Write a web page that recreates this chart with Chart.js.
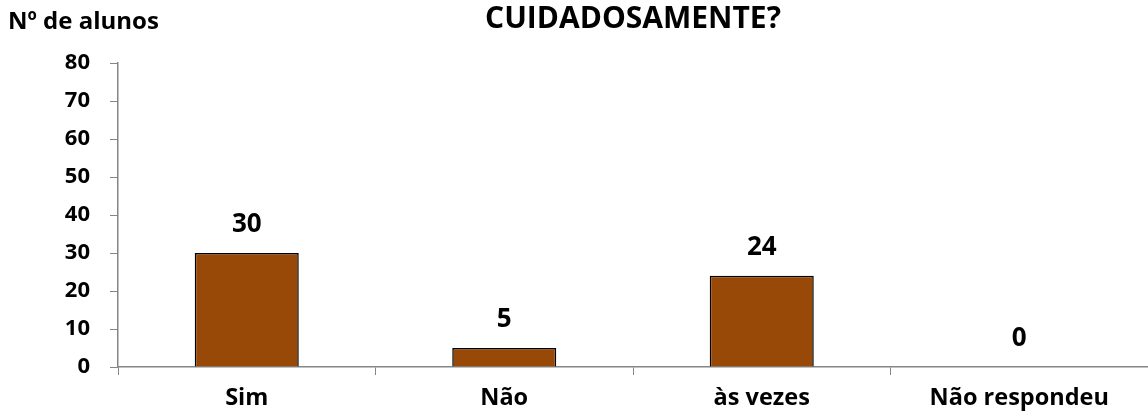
<!DOCTYPE html>
<html>
<head>
<meta charset="utf-8">
<script src="https://cdn.jsdelivr.net/npm/chart.js@4/dist/chart.umd.min.js"></script>
<style>
  html, body { margin: 0; padding: 0; background: #fff; }
  #wrap { width: 1148px; height: 417px; }
</style>
</head>
<body>
<div id="wrap"><canvas id="myChart" width="1148" height="417"></canvas></div>
<script>
const categories = ['Sim', 'Não', 'às vezes', 'Não respondeu'];
const alunos = [30, 5, 24, 0];
const yTicks = [0, 10, 20, 30, 40, 50, 60, 70, 80];

const FONT = '"Open Sans", Lato, sans-serif';
const COLORS = {
  bar: '#984807',
  border: '#000000',
  axis: '#868686',
  text: '#000000'
};

// title + y axis caption, drawn in the free space above the plot
const headings = {
  id: 'headings',
  afterDraw(chart) {
    const c = chart.ctx;
    const area = chart.chartArea;
    c.save();
    c.fillStyle = COLORS.text;
    c.textBaseline = 'middle';
    c.font = 'bold 30px ' + FONT;
    c.textAlign = 'center';
    c.fillText('CUIDADOSAMENTE?', (area.left + area.right) / 2, 19);
    c.font = 'bold 24px ' + FONT;
    c.textAlign = 'left';
    c.fillText('Nº de alunos', 8, 22);
    c.restore();
  }
};

// value labels over the bars
const valueLabels = {
  id: 'valueLabels',
  afterDatasetsDraw(chart) {
    const c = chart.ctx;
    const meta = chart.getDatasetMeta(0);
    c.save();
    c.fillStyle = COLORS.text;
    c.font = 'bold 26px ' + FONT;
    c.textAlign = 'center';
    c.textBaseline = 'middle';
    meta.data.forEach((bar, i) => {
      c.fillText(String(alunos[i]), bar.x, bar.y - 28);
    });
    c.restore();
  }
};

let ctx = document.getElementById('myChart');
let myChart = new Chart(ctx, {
  type: 'bar',
  data: {
    labels: categories,
    datasets: [{
      data: alunos,
      backgroundColor: COLORS.bar,
      borderColor: COLORS.border,
      borderWidth: 1.5,
      categoryPercentage: 1,
      barPercentage: 0.404
    }]
  },
  options: {
    responsive: false,
    animation: false,
    devicePixelRatio: 1,
    layout: { padding: { top: 63, right: 0, left: 0, bottom: 0 } },
    plugins: {
      legend: { display: false },
      tooltip: { enabled: false }
    },
    scales: {
      x: {
        grid: { display: true, drawOnChartArea: false, drawTicks: true, tickLength: 8, color: COLORS.axis, offset: true },
        border: { display: true, color: COLORS.axis, width: 1.5 },
        ticks: { color: COLORS.text, font: { family: FONT, size: 23.5, weight: 'bold' }, padding: 9, maxRotation: 0 },
        afterFit(scale) { scale.height = 50; }
      },
      y: {
        min: 0,
        max: 80,
        afterBuildTicks(scale) { scale.ticks = yTicks.map(v => ({ value: v })); },
        grid: { display: true, drawOnChartArea: false, drawTicks: true, tickLength: 8, color: COLORS.axis },
        border: { display: true, color: COLORS.axis, width: 1.5 },
        ticks: { color: COLORS.text, font: { family: FONT, size: 22, weight: 'bold' }, padding: 20 },
        afterFit(scale) { scale.width = 118; }
      }
    }
  },
  plugins: [headings, valueLabels]
});
</script>
</body>
</html>
